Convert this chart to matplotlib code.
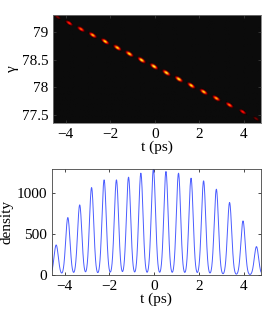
import numpy as np
import matplotlib

matplotlib.use("Agg")
import matplotlib.pyplot as plt

# pulse centres (ps) and peak densities
peak_t = [-4.38, -3.86, -3.33, -2.80, -2.24, -1.69, -1.15, -0.60, -0.04,
          0.52, 1.08, 1.64, 2.20, 2.77, 3.36, 3.96, 4.56]
peak_density = [367, 702, 857, 1069, 1163, 1163, 1196, 1245, 1294,
                1265, 1245, 1184, 1151, 1049, 886, 661, 347]
pulse_sigma = 0.095  # ps

# energy chirp of the train: gamma(t) = gamma0 + slope * t
gamma0 = 78.36
gamma_slope = -0.206
gamma_sigma = 0.022

t_lim = (-4.57, 4.76)
gamma_lim = (77.35, 79.31)

plt.rcParams["font.family"] = ["Liberation Serif", "DejaVu Serif"]
plt.rcParams["font.size"] = 11
plt.rcParams["xtick.direction"] = "in"
plt.rcParams["ytick.direction"] = "in"
plt.rcParams["xtick.top"] = True
plt.rcParams["ytick.right"] = True
plt.rcParams["xtick.major.size"] = 2.5
plt.rcParams["ytick.major.size"] = 2.5

t = np.linspace(t_lim[0], t_lim[1], 1200)
dens = np.zeros_like(t)
for c, h in zip(peak_t, peak_density):
    dens += h * np.exp(-(t - c) ** 2 / (2 * pulse_sigma ** 2))

# phase-space image
ti = np.linspace(t_lim[0], t_lim[1], 220)
gi = np.linspace(gamma_lim[0], gamma_lim[1], 110)
di = np.interp(ti, t, dens)
T, G = np.meshgrid(ti, gi)
img = di[None, :] * np.exp(-(G - (gamma0 + gamma_slope * T)) ** 2 / (2 * gamma_sigma ** 2))

cmap = plt.get_cmap("hot").copy()
cmap.set_under("#0b0b0b")

fig = plt.figure(figsize=(2.69, 3.19), dpi=100)
ax1 = fig.add_axes([0.197, 0.614, 0.773, 0.339])
ax1.imshow(img, origin="lower", aspect="auto", cmap=cmap,
           extent=[t_lim[0], t_lim[1], gamma_lim[0], gamma_lim[1]],
           vmin=110, vmax=1450, interpolation="bilinear")
ax1.set_xlim(*t_lim)
ax1.set_ylim(*gamma_lim)
ax1.set_xticks([-4, -2, 0, 2, 4])
ax1.set_yticks([77.5, 78, 78.5, 79])
ax1.set_yticklabels(["77.5", "78", "78.5", "79"])
ax1.set_xlabel("t (ps)", labelpad=0)
ax1.set_ylabel("γ", labelpad=2)
for s in ax1.spines.values():
    s.set_color("#777777")
    s.set_linewidth(0.6)
ax1.tick_params(colors="#444444", labelcolor="black", width=0.5)

ax2 = fig.add_axes([0.193, 0.138, 0.777, 0.332])
ax2.plot(t, dens, color="#4a5cff", linewidth=0.7)
ax2.set_xlim(*t_lim)
ax2.set_ylim(0, 1295)
ax2.set_xticks([-4, -2, 0, 2, 4])
ax2.set_yticks([0, 500, 1000])
ax2.set_xlabel("t (ps)", labelpad=0)
ax2.set_ylabel("density", labelpad=2)
for s in ax2.spines.values():
    s.set_color("#444444")
    s.set_linewidth(0.6)
ax2.tick_params(width=0.5)

fig.savefig("out.png", dpi=100)
